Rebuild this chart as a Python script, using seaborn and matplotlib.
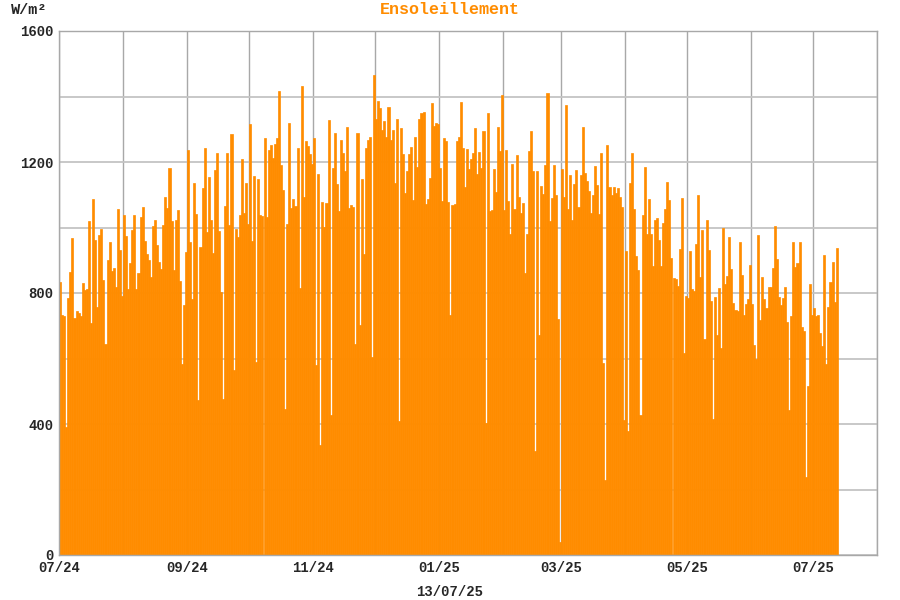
import numpy as np
import pandas as pd
import matplotlib
matplotlib.use("Agg")
import matplotlib.pyplot as plt
import matplotlib.dates as mdates
import seaborn as sns

# daily max sunshine (W/m2), one list per month
jul24 = [833, 733, 731, 391, 785, 864, 967, 723, 745, 740, 731, 832, 809, 813, 1019, 708,
         1087, 961, 757, 977, 994, 839, 644, 902, 955, 867, 876, 819, 1055, 932, 790]
aug24 = [1037, 973, 812, 891, 991, 1037, 812, 860, 1032, 1064, 958, 919, 900, 850, 1004, 1022,
         948, 894, 872, 1009, 1092, 1061, 1181, 1019, 871, 1023, 1053, 837, 582, 764, 925]
sep24 = [1236, 955, 783, 1135, 1041, 472, 941, 1121, 1244, 987, 1153, 1022, 923, 1175, 1228,
         990, 803, 475, 1065, 1227, 1008, 1285, 564, 996, 970, 1038, 1209, 1044, 1136, 1011]
oct24 = [1315, 960, 1157, 589, 1147, 1037, 1035, 1272, 1031, 1236, 1251, 1213, 1254, 1272, 1417,
         1190, 1114, 445, 1011, 1320, 1060, 1086, 1066, 1242, 814, 1433, 1093, 1264, 1248, 1224, 1195]
nov24 = [1274, 580, 1162, 335, 1078, 1001, 1076, 1327, 427, 1182, 1290, 1132, 1051, 1267, 1226,
         1171, 1306, 1059, 1069, 1063, 644, 1290, 702, 1147, 920, 1244, 1267, 1277, 605, 1465]
dec24 = [1330, 1387, 1365, 1298, 1326, 1275, 1369, 1266, 1297, 1136, 1332, 410, 1303, 1224, 1105,
         1172, 1225, 1247, 1083, 1276, 1185, 1332, 1350, 1353, 1073, 1087, 1151, 1381, 1310, 1320, 1316]
jan25 = [1183, 1082, 1274, 1265, 1078, 734, 1068, 1071, 1264, 1276, 1384, 1242, 1125, 1241, 1179,
         1210, 1229, 1304, 1164, 1231, 1181, 1294, 402, 1350, 1049, 1054, 1178, 1108, 1308, 1234, 1406]
feb25 = [1052, 1237, 1082, 979, 1194, 1056, 1221, 1092, 1045, 1075, 862, 981, 1233, 1296, 1172,
         319, 1171, 672, 1128, 1103, 1192, 1411, 1019, 1090, 1190, 1100, 721, 41]
mar25 = [1180, 1094, 1375, 1056, 1159, 1024, 1132, 1175, 1063, 1161, 1307, 1165, 1142, 1112, 1044,
         1098, 1188, 1129, 1040, 1227, 585, 229, 1251, 1124, 1098, 1124, 1104, 1121, 1094, 1063, 411]
apr25 = [928, 378, 1135, 1228, 1058, 913, 871, 426, 1038, 1185, 981, 1088, 980, 883, 1023,
         1028, 962, 881, 1014, 1055, 1139, 1084, 908, 845, 842, 821, 934, 1089, 616, 791]
may25 = [785, 927, 812, 805, 951, 1100, 850, 993, 659, 1024, 931, 777, 415, 789, 673, 814,
         631, 1000, 827, 852, 971, 872, 769, 747, 745, 956, 855, 733, 766, 783, 886]
jun25 = [765, 641, 599, 976, 718, 848, 783, 755, 817, 817, 876, 1006, 903, 789, 762,
         785, 817, 711, 443, 730, 955, 878, 891, 955, 695, 683, 239, 517, 827, 734]
jul25 = [755, 731, 733, 679, 639, 917, 582, 757, 833, 894, 771, 937]

first_day = "2024-07-01"
axis_end = "2025-08-01"
stamp = "13/07/25"

orange = "#ff8c00"

values = jul24 + aug24 + sep24 + oct24 + nov24 + dec24 + jan25 + feb25 + mar25 + apr25 + may25 + jun25 + jul25
days = pd.date_range(first_day, periods=len(values), freq="D")
df = pd.DataFrame({"day": mdates.date2num(days) + 0.5, "sun": values})

sns.set_style("white")
plt.rcParams["font.family"] = ["Liberation Mono", "DejaVu Sans Mono"]

fig = plt.figure(figsize=(9, 6), dpi=100)
ax = fig.add_axes([59 / 900, 45 / 600, 818 / 900, 524 / 600])

sns.barplot(data=df, x="day", y="sun", native_scale=True, width=1.0, color=orange,
            saturation=1, edgecolor=orange, linewidth=0.5, errorbar=None, ax=ax)

ax.set_xlim(mdates.date2num(pd.Timestamp(first_day)), mdates.date2num(pd.Timestamp(axis_end)))
ax.set_ylim(0, 1600)

months = pd.date_range(first_day, axis_end, freq="MS")
ax.set_xticks(mdates.date2num(months))
ax.set_xticklabels([m.strftime("%m/%y") if m.month % 2 == 1 else "" for m in months],
                   fontsize=10, fontweight="bold")
yt = list(range(0, 1601, 200))
ax.set_yticks(yt)
ax.set_yticklabels([str(v) if v % 400 == 0 else "" for v in yt], fontsize=10, fontweight="bold")
ax.tick_params(length=0, pad=4)
ax.set_xlabel("")
ax.set_ylabel("")

ax.set_axisbelow(True)
ax.grid(axis="y", color="#c4c4c4", linewidth=1.3)
ax.grid(axis="x", color="#a8a8a8", linewidth=1.0)
for s in ax.spines.values():
    s.set_color("#a8a8a8")
    s.set_linewidth(1.0)

fig.text(0.5, 0.984, "Ensoleillement", color=orange, fontsize=12, fontweight="bold",
         ha="center", va="center")
fig.text(0.012, 0.984, "W/m²", fontsize=11, fontweight="bold", ha="left", va="center")
fig.text(0.5, 0.013, stamp, fontsize=10, fontweight="bold", ha="center", va="center")

fig.savefig("out.png", dpi=100)
